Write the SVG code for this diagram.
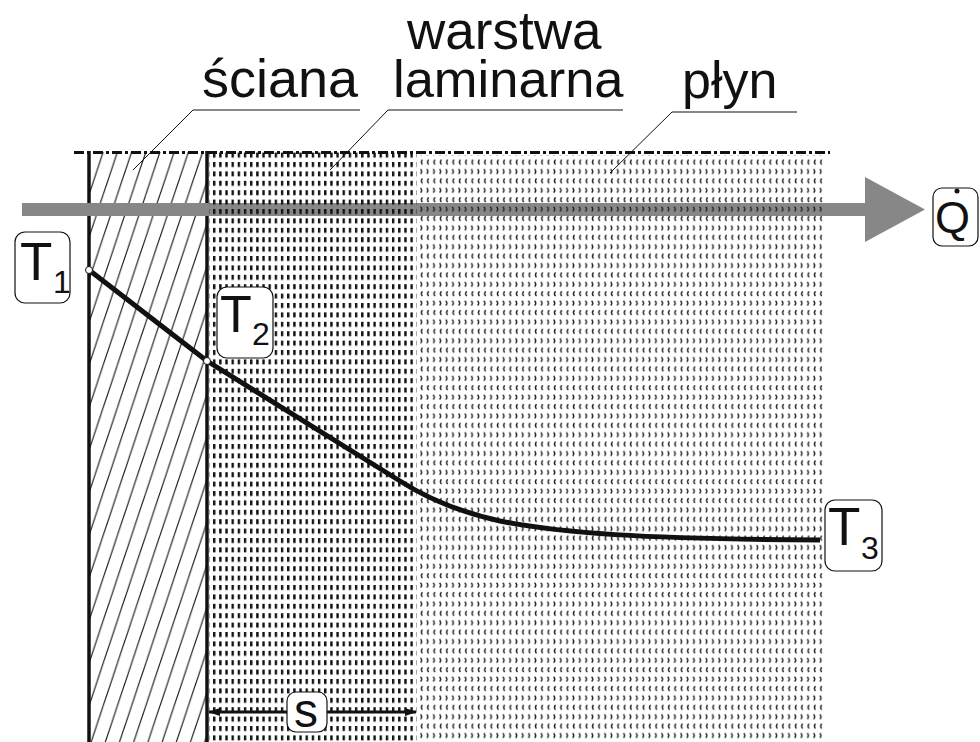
<svg xmlns="http://www.w3.org/2000/svg" width="980" height="742" viewBox="0 0 980 742">
<style>
  .lbl { font-family: "Liberation Sans", Arial, sans-serif; fill: #111; }
  .box { fill: #fff; stroke: #111; stroke-width: 1.2; }
  .lead { fill: none; stroke: #111; stroke-width: 1; }
  .wall { stroke: #111; stroke-width: 3.5; }
</style>
<defs>
  <pattern id="hatch" patternUnits="userSpaceOnUse" x="89" y="152" width="14.2" height="42.6">
    <path d="M0,42.6 L14.2,0 M-14.2,42.6 L0,0 M14.2,42.6 L28.4,0" stroke="#111" stroke-width="1.1"/>
  </pattern>
  <pattern id="lam" patternUnits="userSpaceOnUse" x="213" y="152.6" width="6.17" height="9.4">
    <rect x="0" y="0" width="2.4" height="5" fill="#111"/>
  </pattern>
  <pattern id="flu" patternUnits="userSpaceOnUse" x="420" y="159.5" width="6.34" height="18.8">
    <path d="M2.4,0.2 Q0.2,2.6 2.4,5" fill="none" stroke="#222" stroke-width="1.4"/>
    <path d="M0.5,9.6 Q2.7,12 0.5,14.4" fill="none" stroke="#222" stroke-width="1.4"/>
  </pattern>
  <marker id="ah" viewBox="0 0 12 8" refX="11" refY="4" markerWidth="12" markerHeight="8" markerUnits="userSpaceOnUse" orient="auto-start-reverse">
    <path d="M0,0 L12,4 L0,8 Z" fill="#111"/>
  </marker>
</defs>

<g id="wall">
  <rect x="89" y="152" width="118" height="590" fill="url(#hatch)"/>
  <line class="wall" x1="89" y1="151" x2="89" y2="742"/>
  <line class="wall" x1="207" y1="151" x2="207" y2="742"/>
</g>
<g id="top-edge">
  <line x1="74" y1="152.5" x2="830" y2="152.5" stroke="#111" stroke-width="3" stroke-dasharray="10 3 3 3"/>
</g>
<g id="heat-arrow">
  <rect x="22" y="203" width="845" height="13" fill="#878787"/>
  <polygon points="865,177 925,209.5 865,242" fill="#878787"/>
</g>
<g id="laminar-layer">
  <rect x="209" y="152" width="208" height="590" fill="url(#lam)"/>
</g>
<g id="fluid">
  <rect x="417" y="155" width="407" height="587" fill="url(#flu)"/>
</g>

<g id="connectors">
  <path d="M89,270 L207,361 L400,481 Q442,508 500,521 C560,533 640,539 820,540" fill="none" stroke="#111" stroke-width="5" stroke-linejoin="round"/>
  <circle cx="89" cy="270" r="3.5" fill="#fff" stroke="#111" stroke-width="1"/>
  <circle cx="207" cy="361" r="3.5" fill="#fff" stroke="#111" stroke-width="1"/>
  <line x1="209" y1="712" x2="416" y2="712" stroke="#111" stroke-width="3" marker-start="url(#ah)" marker-end="url(#ah)"/>
  <polyline class="lead" points="360,110 193,110 133,170"/>
  <polyline class="lead" points="623,110 388,110 330,170"/>
  <polyline class="lead" points="797,112 672,112 610,173"/>
</g>

<g id="label-sciana"><text class="lbl" x="202" y="97" font-size="54">ściana</text></g>
<g id="label-warstwa"><text class="lbl" x="407" y="49" font-size="53">warstwa</text>
  <text class="lbl" x="393" y="97" font-size="52.5">laminarna</text></g>
<g id="label-plyn"><text class="lbl" x="682" y="98" font-size="52">płyn</text></g>

<g id="T1">
  <rect class="box" x="15" y="232" width="55" height="71" rx="10"/>
  <text class="lbl" x="20" y="280" font-size="53">T</text>
  <text class="lbl" x="53" y="293" font-size="32">1</text>
</g>
<g id="T2">
  <rect class="box" x="217" y="287" width="56" height="71" rx="10"/>
  <text class="lbl" x="220" y="332" font-size="52">T</text>
  <text class="lbl" x="252" y="345" font-size="32">2</text>
</g>
<g id="T3">
  <rect class="box" x="825" y="500" width="57" height="71" rx="10"/>
  <text class="lbl" x="828" y="545" font-size="53">T</text>
  <text class="lbl" x="861" y="559" font-size="32">3</text>
</g>
<g id="Q">
  <rect class="box" x="933" y="188" width="45" height="58" rx="9"/>
  <text class="lbl" x="935" y="233" font-size="45">Q</text>
  <circle cx="957" cy="191" r="2.5" fill="#111"/>
</g>
<g id="s">
  <rect class="box" x="287" y="692" width="40" height="40" rx="9"/>
  <text class="lbl" x="294" y="727" font-size="48">s</text>
</g>
</svg>
